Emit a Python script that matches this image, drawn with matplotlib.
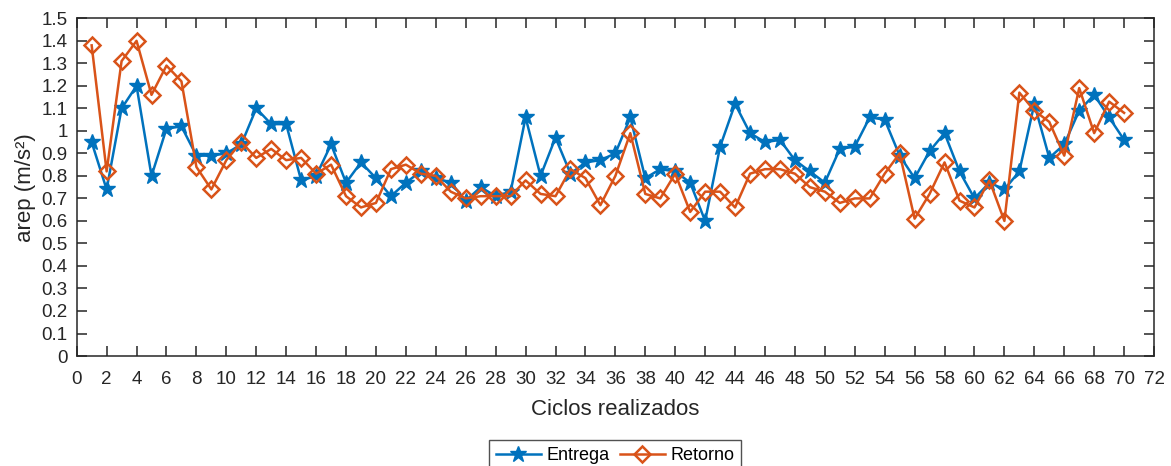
import numpy as np
import matplotlib
matplotlib.use("Agg")
import matplotlib.pyplot as plt

plt.rcParams['font.family'] = ['Liberation Sans', 'DejaVu Sans']

# --------------------------------------------------
# dados
# --------------------------------------------------
ciclos = list(range(1, 71))

entrega = [0.95, 0.74, 1.10, 1.20, 0.80, 1.01, 1.02, 0.89, 0.89, 0.90,
           0.94, 1.10, 1.03, 1.03, 0.78, 0.80, 0.94, 0.77, 0.86, 0.79,
           0.71, 0.77, 0.82, 0.79, 0.77, 0.69, 0.75, 0.71, 0.73, 1.06,
           0.80, 0.97, 0.81, 0.86, 0.87, 0.90, 1.06, 0.79, 0.83, 0.82,
           0.77, 0.60, 0.93, 1.12, 0.99, 0.95, 0.96, 0.87, 0.82, 0.77,
           0.92, 0.93, 1.06, 1.05, 0.89, 0.79, 0.91, 0.99, 0.82, 0.70,
           0.77, 0.74, 0.82, 1.12, 0.88, 0.94, 1.09, 1.16, 1.06, 0.96]

retorno = [1.38, 0.82, 1.31, 1.40, 1.16, 1.29, 1.22, 0.84, 0.74, 0.87,
           0.95, 0.88, 0.92, 0.87, 0.88, 0.81, 0.85, 0.71, 0.66, 0.68,
           0.83, 0.85, 0.81, 0.80, 0.73, 0.70, 0.71, 0.71, 0.71, 0.78,
           0.72, 0.71, 0.83, 0.79, 0.67, 0.80, 0.99, 0.72, 0.70, 0.81,
           0.64, 0.73, 0.73, 0.66, 0.81, 0.83, 0.83, 0.81, 0.75, 0.73,
           0.68, 0.70, 0.70, 0.81, 0.90, 0.61, 0.72, 0.86, 0.69, 0.66,
           0.78, 0.60, 1.17, 1.09, 1.04, 0.89, 1.19, 0.99, 1.13, 1.08]

x_ticks = np.arange(0, 73, 2)
y_ticks = np.round(np.arange(0, 1.51, 0.1), 1)

azul = "#0072BD"
laranja = "#D95319"
cinza = "#262626"

# --------------------------------------------------
# figura
# --------------------------------------------------
fig = plt.figure(figsize=(11.71, 4.66), dpi=100)
ax = fig.add_axes([0.0655, 0.236, 0.92, 0.7247])

ax.plot(ciclos, entrega, color=azul, linewidth=1.8, marker="*",
        markersize=12, label="Entrega")
ax.plot(ciclos, retorno, color=laranja, linewidth=1.8, marker="D",
        markersize=8, markerfacecolor="none", markeredgewidth=1.8,
        label="Retorno")

ax.set_xlim(0, 72)
ax.set_ylim(0, 1.5)
ax.set_xticks(x_ticks)
ax.set_yticks(y_ticks)
ax.set_yticklabels([("%g" % v) for v in y_ticks])

ax.tick_params(direction="in", length=7, width=1.1, colors=cinza,
               labelsize=13.5, top=True, right=True)
ax.tick_params(axis="x", pad=11)
ax.tick_params(axis="y", pad=6.5)
for s in ax.spines.values():
    s.set_color(cinza)
    s.set_linewidth(1.1)

ax.set_xlabel("Ciclos realizados", fontsize=16, color=cinza, labelpad=8)
ax.set_ylabel("arep (m/s²)", fontsize=16, color=cinza, labelpad=4)

# legenda embaixo, cortada pela borda como no original
leg = fig.legend(loc="upper center", bbox_to_anchor=(615 / 1171, 1 - 440 / 466),
                 ncol=2, fontsize=13, frameon=True, fancybox=False,
                 handlelength=2.5, handletextpad=0.3, columnspacing=0.55,
                 borderpad=0.4, borderaxespad=0)
leg.get_frame().set_edgecolor(cinza)
leg.get_frame().set_linewidth(1.0)

fig.savefig("out.png", dpi=100)
